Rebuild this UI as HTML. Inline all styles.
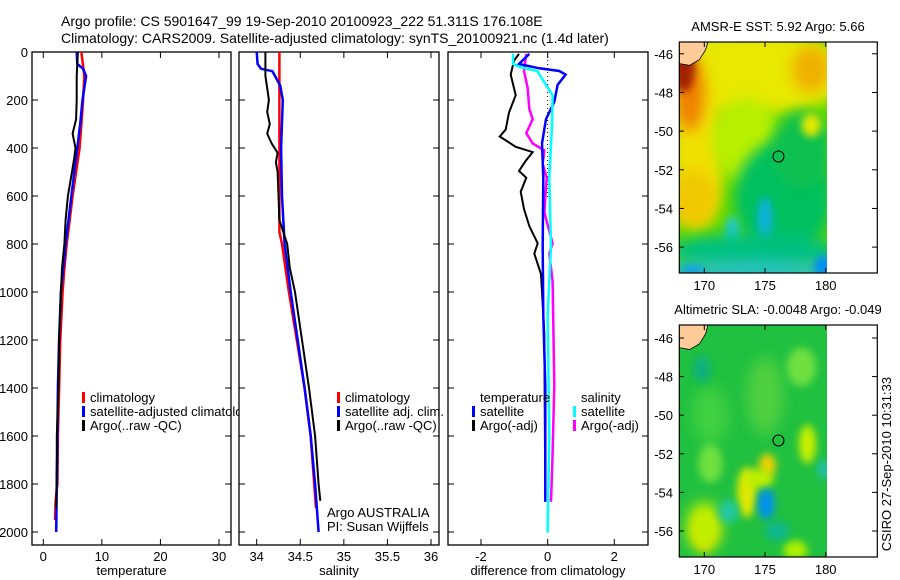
<!DOCTYPE html>
<html><head><meta charset="utf-8"><style>
html,body{margin:0;padding:0;background:#fff;}
svg{display:block;font-family:"Liberation Sans",sans-serif;}
</style></head><body>
<svg id="fig" width="900" height="580" viewBox="0 0 900 580" xmlns="http://www.w3.org/2000/svg">
<defs>
<filter id="bl" x="-50%" y="-50%" width="200%" height="200%"><feGaussianBlur stdDeviation="7"/></filter>
<filter id="bl2" x="-50%" y="-50%" width="200%" height="200%"><feGaussianBlur stdDeviation="4"/></filter>
<clipPath id="c1"><rect x="679" y="42" width="148" height="231"/></clipPath>
<clipPath id="c2"><rect x="679" y="325" width="148" height="232"/></clipPath>
<clipPath id="legclip"><rect x="0" y="0" width="239" height="580"/></clipPath>
</defs>
<text x="61" y="26" font-size="14">Argo profile: CS 5901647_99 19-Sep-2010 20100923_222 51.311S 176.108E</text>
<text x="61" y="43" font-size="14">Climatology: CARS2009. Satellite-adjusted climatology: synTS_20100921.nc (1.4d later)</text>
<g id="axes"></g>
<g id="maps"></g>
<text transform="translate(891,464) rotate(-90)" font-size="13" text-anchor="middle">CSIRO 27-Sep-2010 10:31:33</text>
</svg>
<script>
// ---- data ----
const tempClimDepth=[0,100,200,300,400,500,600,700,800,900,1000,1200,1400,1600,1800,1870,1950];
const tempClim=[6.5,7.0,6.8,6.5,6.2,5.6,5.0,4.5,4.0,3.6,3.3,2.9,2.7,2.5,2.4,2.1,2.0];
const tempSatDepth=[0,50,70,100,200,300,400,500,600,700,800,900,1000,1200,1400,1600,1800,2000];
const tempSat=[5.7,5.8,6.8,7.3,6.7,6.3,5.8,5.3,4.8,4.3,3.8,3.4,3.0,2.7,2.5,2.4,2.3,2.2];
const tempArgoDepth=[0,100,200,280,340,400,440,500,600,700,800,900,1000,1200,1400,1600,1700,1900];
const tempArgo=[5.9,5.7,5.7,5.6,5.0,5.5,5.3,4.9,4.2,3.8,3.6,3.2,3.0,2.7,2.6,2.3,2.3,2.2];
const salClimDepth=[0,750,800,1000,1200,1400,1600,1800,1900];
const salClim=[34.26,34.26,34.29,34.37,34.46,34.55,34.62,34.66,34.68];
const salSatDepth=[0,50,70,80,140,200,400,600,800,1000,1200,1400,1600,1800,2000];
const salSat=[34.0,34.01,34.05,34.18,34.27,34.3,34.28,34.29,34.32,34.39,34.47,34.55,34.62,34.67,34.71];
const salArgoDepth=[0,100,150,200,250,300,340,380,420,460,500,600,700,800,900,1000,1200,1400,1600,1800,1870];
const salArgo=[34.1,34.1,34.12,34.14,34.12,34.15,34.12,34.17,34.24,34.22,34.24,34.25,34.26,34.35,34.38,34.44,34.52,34.6,34.67,34.71,34.73];
const dTempArgoDepth=[8,36,94,180,252,323,352,395,417,452,496,524,582,654,725,797,840,926,1170,1874];
const dTempArgo=[-0.86,-1.01,-1.11,-0.96,-1.16,-1.26,-1.44,-0.96,-0.45,-0.65,-0.86,-0.64,-0.81,-0.71,-0.55,-0.30,-0.40,-0.20,-0.10,-0.07];
const dTempSatDepth=[8,50,68,79,94,137,208,280,381,524,812,1099,1386,1874];
const dTempSat=[-0.55,-0.86,-0.25,0.35,0.54,0.30,0.20,-0.05,-0.17,-0.13,-0.15,-0.13,-0.07,-0.07];
const dSalSatDepth=[8,50,65,79,137,180,309,524,812,1099,1601,2003];
const dSalSat=[-1.04,-1.04,-0.77,-0.31,-0.05,0.15,0.13,0.05,0.10,0.0,0.05,0.0];
const dSalArgoDepth=[8,79,151,237,280,338,381,410,467,524,668,797,840,955,1386,1673,1874];
const dSalArgo=[-0.64,-0.71,-0.6,-0.55,-0.45,-0.64,-0.45,-0.1,-0.15,-0.03,-0.1,0.15,0.05,0.15,0.2,0.15,0.1];
const depthTicks=[0,200,400,600,800,1000,1200,1400,1600,1800,2000];
const tempTicks=[0,10,20,30];
const salTicks=[34,34.5,35,35.5,36];
const diffTicks=[-2,0,2];
const latTicks=[-46,-48,-50,-52,-54,-56];
const lonTicks=[170,175,180];

const NS="http://www.w3.org/2000/svg";
const axesG=document.getElementById('axes');
function mk(tag,attrs,parent){const e=document.createElementNS(NS,tag);for(const k in attrs)e.setAttribute(k,attrs[k]);(parent||axesG).appendChild(e);return e;}
const yD=d=>52+d*0.24;
function linear(v0,p0,v1,p1){return v=>p0+(v-v0)*(p1-p0)/(v1-v0);}
const xT=linear(0,43.3,30,219);
const xS=linear(34,256.7,36,431);
const xDf=linear(-2,481,2,614.3);

function panel(name,x0,x1,xs,ticks,fmt,label,showY){
  const g=mk('g',{});
  
  
  const r=mk('rect',{x:x0,y:52,width:x1-x0,height:493,fill:'none',stroke:'#000','stroke-width':1.3},g);
  
  
  ticks.forEach(t=>{const x=xs(t);
    mk('line',{x1:x,y1:545,x2:x,y2:539,stroke:'#000'},g);
    mk('line',{x1:x,y1:52,x2:x,y2:58,stroke:'#000'},g);
    const tx=mk('text',{x:x,y:561,'font-size':13,'text-anchor':'middle'},g);tx.textContent=fmt(t);
    
    
  });
  depthTicks.forEach(d=>{const y=yD(d);
    mk('line',{x1:x0,y1:y,x2:x0+6,y2:y,stroke:'#000'},g);
    mk('line',{x1:x1,y1:y,x2:x1-6,y2:y,stroke:'#000'},g);
    if(showY){const tx=mk('text',{x:28,y:y+5,'font-size':13,'text-anchor':'end'},g);tx.textContent=d;
      
      }
  });
  const xl=mk('text',{x:(x0+x1)/2,y:575,'font-size':13,'text-anchor':'middle'},g);xl.textContent=label;
  
  
  return g;
}
function profile(name,vals,depths,xs,color,w){
  const pts=vals.map((v,i)=>xs(v).toFixed(1)+','+yD(depths[i]).toFixed(1)).join(' ');
  const p=mk('polyline',{points:pts,fill:'none',stroke:color,'stroke-width':w,'stroke-linejoin':'miter'});
  
  
}
function legend(x,y,items,name,clip){
  const g=mk('g',clip?{'clip-path':'url(#'+clip+')'}:{});
  
  
  items.forEach((it,i)=>{const yy=y+i*14;
    if(it[1])mk('rect',{x:x,y:yy-6,width:3,height:11,fill:it[1]},g);
    const t=mk('text',{x:x+8,y:yy+4,'font-size':13},g);t.textContent=it[0];
    
    
  });
}
panel('temperature',32,231,xT,tempTicks,t=>t,'temperature',true);
panel('salinity',239,439,xS,salTicks,t=>t,'salinity',false);
panel('difference',448,648,xDf,diffTicks,t=>t,'difference from climatology',false);

profile('temp-climatology-line',tempClim,tempClimDepth,xT,'#f00',2.5);
profile('temp-satellite-line',tempSat,tempSatDepth,xT,'#00f',2.5);
profile('temp-argo-line',tempArgo,tempArgoDepth,xT,'#000',2);
profile('sal-climatology-line',salClim,salClimDepth,xS,'#f00',2.5);
profile('sal-satellite-line',salSat,salSatDepth,xS,'#00f',2.5);
profile('sal-argo-line',salArgo,salArgoDepth,xS,'#000',2);
mk('line',{x1:xDf(0),y1:52,x2:xDf(0),y2:200,stroke:'#000','stroke-dasharray':'1,3'});
profile('diff-temp-argo-line',dTempArgo,dTempArgoDepth,xDf,'#000',2);
profile('diff-sal-argo-line',dSalArgo,dSalArgoDepth,xDf,'#f0f',2.5);
profile('diff-temp-satellite-line',dTempSat,dTempSatDepth,xDf,'#00f',2.5);
profile('diff-sal-satellite-line',dSalSat,dSalSatDepth,xDf,'#0ff',2.5);

legend(82,398,[['climatology','#f00'],['satellite-adjusted climatology','#00f'],['Argo(..raw -QC)','#000']],'temperature-legend','legclip');
legend(337,398,[['climatology','#f00'],['satellite adj. clim.','#00f'],['Argo(..raw -QC)','#000']],'salinity-legend');
legend(472,398,[['temperature',null],['satellite','#00f'],['Argo(-adj)','#000']],'diff-temperature-legend');
legend(573,398,[['salinity',null],['satellite','#0ff'],['Argo(-adj)','#f0f']],'diff-salinity-legend');
const a1=mk('text',{x:327,y:517,'font-size':13});a1.textContent='Argo AUSTRALIA';

const a2=mk('text',{x:327,y:531,'font-size':13});a2.textContent='PI: Susan Wijffels';


// ---- maps ----
const mapsG=document.getElementById('maps');
function mkm(tag,attrs,parent){return mk(tag,attrs,parent||mapsG);}
function map(name,top,bottom,lat46,lat56,title,clip,blobs,base){
  const yL=linear(-46,lat46,-56,lat56);
  const xL=linear(170,704.3,180,825.7);
  const g=mkm('g',{});
  
  
  const t=mkm('text',{x:778,y:top-11,'font-size':13,'text-anchor':'middle'},g);t.textContent=title;
  
  const f=mkm('g',{'clip-path':'url(#'+clip+')'},g);
  mkm('rect',{x:679,y:top,width:148,height:bottom-top,fill:base},f);
  blobs.forEach(b=>{mkm('ellipse',{cx:xL(b[0]),cy:yL(b[1]),rx:b[2]*12.14,ry:b[3]*19.3,fill:b[4],filter:b[5]?'url(#bl2)':'url(#bl)'},f);});
  mkm('path',{d:`M679,${top} L${xL(170.3)},${top} L${xL(170.1)},${yL(-45.8)} L${xL(169.6)},${yL(-46.3)} L${xL(168.8)},${yL(-46.6)} L679,${yL(-46.5)} Z`,fill:'#ffcc99',stroke:'#000','stroke-width':0.8},f);
  const fr=mkm('rect',{x:679.3,y:top,width:198,height:bottom-top,fill:'none',stroke:'#000','stroke-width':1.2},g);
  
  latTicks.forEach(la=>{const y=yL(la);
    mkm('line',{x1:679,y1:y,x2:684,y2:y,stroke:'#000'},g);
    mkm('line',{x1:877,y1:y,x2:872,y2:y,stroke:'#000'},g);
    const tx=mkm('text',{x:673,y:y+5,'font-size':13,'text-anchor':'end'},g);tx.textContent=la;
    });
  lonTicks.forEach(lo=>{const x=xL(lo);
    mkm('line',{x1:x,y1:bottom,x2:x,y2:bottom-5,stroke:'#000'},g);
    mkm('line',{x1:x,y1:top,x2:x,y2:top+5,stroke:'#000'},g);
    const tx=mkm('text',{x:x,y:bottom+17,'font-size':13,'text-anchor':'middle'},g);tx.textContent=lo;
    });
  const c=mkm('circle',{cx:xL(176.108),cy:yL(-51.311),r:5.5,fill:'none',stroke:'#000','stroke-width':1},g);
  
}
const sstBlobs=[
 [174,-47,8,2.2,'#e8e800'],[178.8,-46.8,1.6,1.2,'#f0b000'],[169.5,-51,2.2,4,'#f0e000'],
 [173.5,-50.5,2.8,2.2,'#b8f000'],[168.8,-48,1.2,2,'#f08000'],[168.3,-46.8,0.9,1.2,'#a02000',1],
 [169,-53.5,2,1.5,'#f0c800'],[176.5,-53.5,4,3,'#00c060'],[178,-51,2.5,2,'#10c050'],
 [178.8,-49.7,0.8,0.6,'#e0e800',1],[175,-54.6,0.6,1.2,'#10b0e0',1],[172.3,-55.2,0.6,0.8,'#20c8d0',1],
 [174,-56.2,7,0.9,'#00c080'],[174,-57.2,8,0.5,'#20c0d0'],[179.8,-57,0.8,0.6,'#0090f0',1],[169,-57.2,1,0.3,'#10a0e0',1]
];
const slaBlobs=[
 [170.5,-50,1.5,1.5,'#40d040'],[175,-49,1.5,2,'#50d040'],[178,-47.5,1.2,1,'#70e040',1],
 [173.5,-54,0.8,1.3,'#e0e800',1],[175.2,-52.6,0.7,0.6,'#f0d000',1],[174.5,-53.3,1.2,0.5,'#c0f000',1],
 [178.5,-51.5,0.7,1,'#c8f000',1],[175.1,-54.6,0.7,0.8,'#0090f0',1],[170,-56,1,1,'#f0c000',1],
 [170,-55.8,1.5,1.3,'#c0f000'],[177.5,-57,1,0.5,'#b0f000',1],[172,-55,0.8,0.6,'#20c8a0',1],
 [169.8,-47.6,0.7,0.7,'#10b080',1],[179.8,-52.8,0.4,0.5,'#20c0c0',1],[176,-56,1,0.5,'#10b890',1],[170.5,-52.5,1,1,'#70e040',1]
];
map('sst-map',42,273,53.8,247.1,'AMSR-E SST: 5.92 Argo: 5.66','c1',sstBlobs,'#60d800');
map('sla-map',325,557,338,531,'Altimetric SLA: -0.0048 Argo: -0.049','c2',slaBlobs,'#20c040');
</script>
</body></html>
